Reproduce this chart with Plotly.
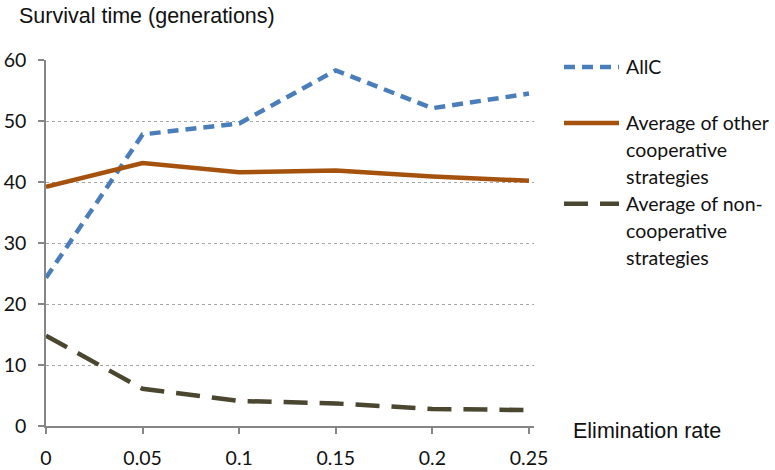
import plotly.graph_objects as go

x_vals = [0, 0.05, 0.1, 0.15, 0.2, 0.25]
x_labels = ["0", "0.05", "0.1", "0.15", "0.2", "0.25"]
allc = [24.3, 47.8, 49.6, 58.3, 52.1, 54.5]
other_coop = [39.2, 43.1, 41.6, 41.9, 40.9, 40.2]
non_coop = [14.8, 6.1, 4.1, 3.7, 2.8, 2.6]
y_ticks = [0, 10, 20, 30, 40, 50, 60]

series_names = ["AllC",
                ["Average of other", "cooperative", "strategies"],
                ["Average of non-", "cooperative", "strategies"]]
colors = ["#4a7ebb", "#a5520f", "#4b4630"]
dashes = ["11px,7px", "solid", "24px,12px"]

W, H = 775, 470
L, T = 46, 60
R = W - 534
B = H - 426.5
PW, PH = W - L - R, H - T - B


def px(xp):
    return (xp - L) / PW


def py(yp):
    return (H - B - yp) / PH


fig = go.Figure()
for name, data, c, d in zip(series_names, [allc, other_coop, non_coop], colors, dashes):
    nm = name if isinstance(name, str) else " ".join(name)
    fig.add_trace(go.Scatter(x=x_vals, y=data, mode="lines", name=nm,
                             showlegend=False,
                             line=dict(color=c, width=4.5, dash=d)))

font_tick = "Lato, 'Open Sans', sans-serif"
font_title = "Liberation Sans, Arial, sans-serif"

shapes = []
annotations = [
    dict(text="Survival time (generations)", xref="paper", yref="paper",
         x=px(17), y=py(16), xanchor="left", yanchor="middle", showarrow=False,
         font=dict(family=font_title, size=21.5, color="#111")),
    dict(text="Elimination rate", xref="paper", yref="paper",
         x=px(571), y=py(432), xanchor="left", yanchor="middle", showarrow=False,
         font=dict(family=font_title, size=21.5, color="#111")),
]

# manual legend
leg_y = [67, 123, 204]
for name, c, d, yy in zip(series_names, colors, dashes, leg_y):
    shapes.append(dict(type="line", xref="paper", yref="paper",
                       x0=px(564), x1=px(619), y0=py(yy), y1=py(yy),
                       line=dict(color=c, width=4.5, dash=d)))
    lines = [name] if isinstance(name, str) else name
    for i, t in enumerate(lines):
        annotations.append(dict(text=t, xref="paper", yref="paper",
                                x=px(624), y=py(yy + 27 * i),
                                xanchor="left", yanchor="middle", showarrow=False,
                                font=dict(family=font_tick, size=19.5, color="#111")))

fig.update_layout(
    width=W, height=H,
    margin=dict(l=L, r=R, t=T, b=B),
    paper_bgcolor="white", plot_bgcolor="white",
    showlegend=False,
    xaxis=dict(range=[0, 0.2526], tickvals=x_vals, ticktext=x_labels,
               showgrid=False, zeroline=False, showline=True, automargin=False,
               linecolor="#868686", linewidth=1.5,
               ticks="outside", ticklen=6, tickcolor="#868686", tickwidth=1.5,
               ticklabelstandoff=8,
               tickfont=dict(family=font_tick, size=19.5, color="#111")),
    yaxis=dict(range=[0, 60], tickvals=y_ticks, showgrid=True, automargin=False,
               gridcolor="#a6a6a6", griddash="dot", gridwidth=1,
               zeroline=False, showline=True, linecolor="#868686", linewidth=1.5,
               ticks="outside", ticklen=6, tickcolor="#868686", tickwidth=1.5,
               ticklabelstandoff=8,
               tickfont=dict(family=font_tick, size=19.5, color="#111")),
    shapes=shapes,
    annotations=annotations,
)

fig.write_html(
    "out.html",
    config={"displayModeBar": False},
    post_script="document.body.style.margin='0';document.body.style.overflow='hidden';",
)
